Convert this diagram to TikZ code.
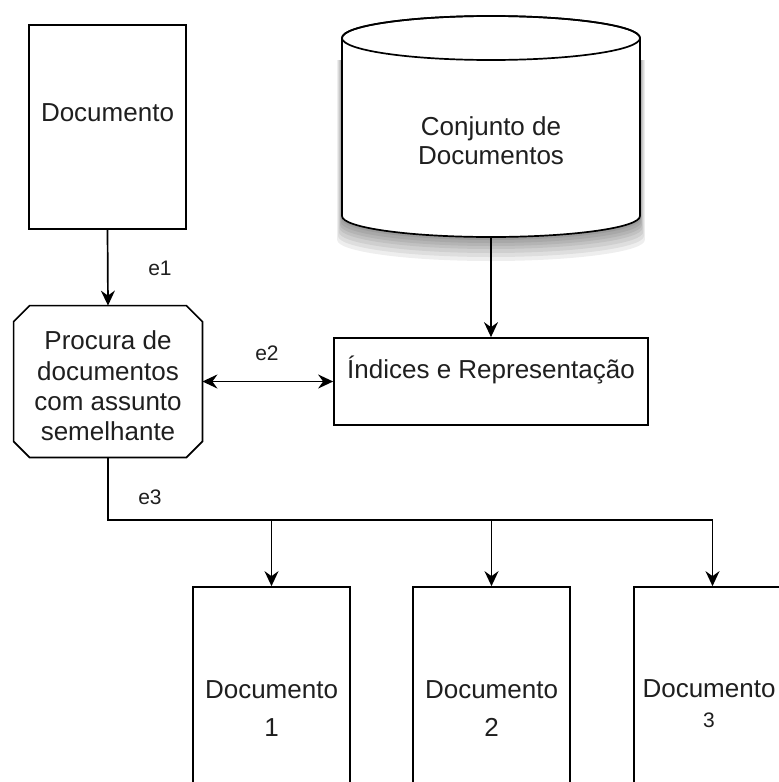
\documentclass[tikz,border=0pt]{standalone}
\usepackage{fontspec}
\setmainfont{Liberation Sans}
\usetikzlibrary{arrows.meta}

\tikzset{
  box/.style={draw=black, line width=0.85pt, fill=white, inner sep=0pt},
  docbox/.style={box, rectangle, minimum width=78.5pt, minimum height=102pt},
  outbox/.style={box, rectangle, minimum width=78.5pt, minimum height=106.5pt},
  txt/.style={font=\fontsize{13}{14.5}\selectfont, text=black!88, align=center, inner sep=0pt},
  elabel/.style={font=\fontsize{10.5}{12}\selectfont, text=black!88, inner sep=0pt},
  conn/.style={line width=0.85pt, draw=black},
  arr/.style={conn, -{Stealth[length=7.5pt, width=7pt, inset=2.5pt]}},
  darr/.style={conn, {Stealth[length=7.5pt, width=7pt, inset=2.5pt]}-{Stealth[length=7.5pt, width=7pt, inset=2.5pt]}},
}

\begin{document}
\begin{tikzpicture}[x=0.5pt, y=-0.5pt]
  \useasboundingbox (0,0) rectangle (779,782);
  \clip (0,0) rectangle (779,782);
  \fill[white] (0,0) rectangle (779,782);

  % source document
  \node[docbox] (doc) at (107.5,127) {};
  \node[txt] (doctxt) at (107.5,113) {Documento};

  % document collection: cylinder with a soft shadow below
  \foreach \s in {24,20,16,12,9,6,3}{
    \fill[black, opacity=0.065]
      (342-\s*0.2,60) -- (342-\s*0.2,216+\s)
      arc[start angle=180, end angle=0, x radius=149+\s*0.2, y radius=21]
      -- (640+\s*0.2,60) -- cycle;
  }
  \filldraw[fill=white, draw=black, line width=0.85pt]
    (342,38) -- (342,216)
    arc[start angle=180, end angle=0, x radius=149, y radius=21]
    -- (640,38)
    arc[start angle=0, end angle=-180, x radius=149, y radius=22] -- cycle;
  \draw[line width=0.85pt] (491,38) ellipse [x radius=149, y radius=22];
  \node[minimum width=149pt, minimum height=111pt, inner sep=0pt] (cyl) at (491,126) {};
  \node[txt] (cyltxt) at (491,141) {Conjunto de\\Documentos};

  % search step: box with cut corners
  \node[minimum width=94pt, minimum height=75.5pt, inner sep=0pt] (oct) at (108,381.5) {};
  \filldraw[fill=white, draw=black, line width=0.85pt]
    ([xshift=8pt]oct.north west) -- ([xshift=-8pt]oct.north east)
    -- ([yshift=-8pt]oct.north east) -- ([yshift=8pt]oct.south east)
    -- ([xshift=-8pt]oct.south east) -- ([xshift=8pt]oct.south west)
    -- ([yshift=8pt]oct.south west) -- ([yshift=-8pt]oct.north west) -- cycle;
  \node[txt, font=\fontsize{13}{15.2}\selectfont] (octtxt) at (108,386)
    {Procura de\\documentos\\com assunto\\semelhante};

  % index and representation
  \node[box, rectangle, minimum width=157pt, minimum height=43.5pt] (idx) at (491,381.5) {};
  \node[txt] (idxtxt) at (491,370) {Índices e Representação};

  % retrieved documents
  \node[outbox] (d1) at (271.5,693.5) {};
  \node[outbox] (d2) at (491.5,693.5) {};
  \node[outbox] (d3) at (712.5,693.5) {};
  \node[txt, font=\fontsize{13}{19}\selectfont] (d1txt) at (271.5,709) {Documento\\1};
  \node[txt, font=\fontsize{13}{19}\selectfont] (d2txt) at (491.5,709) {Documento\\2};
  \node[txt, font=\fontsize{13}{15}\selectfont] (d3txt) at (709,704)
    {Documento\\{\fontsize{10.5}{12}\selectfont 3}};

  % connectors
  \draw[arr] (doc.south) -- (oct.north);
  \node[elabel] (e1) at (160,268) {e1};

  \draw[arr] (cyl.south) -- (idx.north);

  \draw[darr] (oct.east) -- (idx.west);
  \node[elabel] (e2) at (267,353) {e2};

  \coordinate (split) at (108,520);
  \coordinate (end3) at (712.5,520);
  \draw[conn] (oct.south) -- (split) -- (end3);
  \draw[arr] (d1.north |- split) -- (d1.north);
  \draw[arr] (d2.north |- split) -- (d2.north);
  \draw[arr] (end3) -- (d3.north);
  \node[elabel] (e3) at (150,497) {e3};
\end{tikzpicture}
\end{document}
